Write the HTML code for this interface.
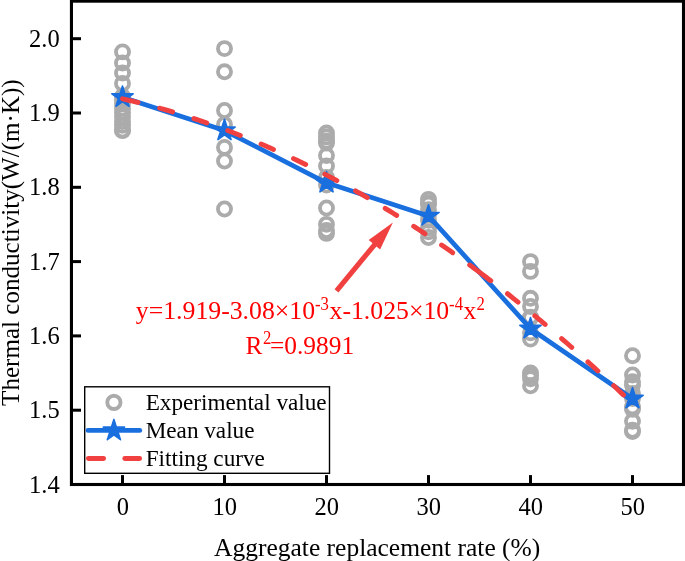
<!DOCTYPE html>
<html><head><meta charset="utf-8"><title>chart</title>
<style>
html,body{margin:0;padding:0;background:#fff;}
body{width:685px;height:561px;overflow:hidden;}
svg{display:block;will-change:transform;}
text{font-family:"Liberation Serif",serif;}
</style></head><body>
<svg width="685" height="561" viewBox="0 0 685 561">
<rect x="0" y="0" width="685" height="561" fill="#ffffff"/>

<g fill="none" stroke="#ababab" stroke-width="3.8">
<circle cx="122.5" cy="51.90" r="6.55"/>
<circle cx="122.5" cy="63.00" r="6.55"/>
<circle cx="122.5" cy="73.00" r="6.55"/>
<circle cx="122.5" cy="83.40" r="6.55"/>
<circle cx="122.5" cy="96.50" r="6.55"/>
<circle cx="122.5" cy="100.00" r="6.55"/>
<circle cx="122.5" cy="103.55" r="6.55"/>
<circle cx="122.5" cy="108.15" r="6.55"/>
<circle cx="122.5" cy="112.50" r="6.55"/>
<circle cx="122.5" cy="116.70" r="6.55"/>
<circle cx="122.5" cy="121.50" r="6.55"/>
<circle cx="122.5" cy="125.35" r="6.55"/>
<circle cx="122.5" cy="130.05" r="6.55"/>
<circle cx="122.5" cy="130.65" r="6.55"/>
<circle cx="224.5" cy="48.60" r="6.55"/>
<circle cx="224.5" cy="71.80" r="6.55"/>
<circle cx="224.5" cy="110.50" r="6.55"/>
<circle cx="224.5" cy="124.50" r="6.55"/>
<circle cx="224.5" cy="147.40" r="6.55"/>
<circle cx="224.5" cy="161.00" r="6.55"/>
<circle cx="224.5" cy="209.00" r="6.55"/>
<circle cx="326.5" cy="133.05" r="6.55"/>
<circle cx="326.5" cy="136.90" r="6.55"/>
<circle cx="326.5" cy="141.10" r="6.55"/>
<circle cx="326.5" cy="143.05" r="6.55"/>
<circle cx="326.5" cy="155.60" r="6.55"/>
<circle cx="326.5" cy="166.00" r="6.55"/>
<circle cx="326.5" cy="177.50" r="6.55"/>
<circle cx="326.5" cy="185.00" r="6.55"/>
<circle cx="326.5" cy="208.00" r="6.55"/>
<circle cx="326.5" cy="224.35" r="6.55"/>
<circle cx="326.5" cy="230.50" r="6.55"/>
<circle cx="326.5" cy="233.40" r="6.55"/>
<circle cx="428.5" cy="199.35" r="6.55"/>
<circle cx="428.5" cy="203.25" r="6.55"/>
<circle cx="428.5" cy="204.15" r="6.55"/>
<circle cx="428.5" cy="209.75" r="6.55"/>
<circle cx="428.5" cy="214.50" r="6.55"/>
<circle cx="428.5" cy="220.30" r="6.55"/>
<circle cx="428.5" cy="228.10" r="6.55"/>
<circle cx="428.5" cy="231.85" r="6.55"/>
<circle cx="428.5" cy="237.50" r="6.55"/>
<circle cx="530.5" cy="261.60" r="6.55"/>
<circle cx="530.5" cy="271.40" r="6.55"/>
<circle cx="530.5" cy="298.30" r="6.55"/>
<circle cx="530.5" cy="306.50" r="6.55"/>
<circle cx="530.5" cy="317.20" r="6.55"/>
<circle cx="530.5" cy="317.90" r="6.55"/>
<circle cx="530.5" cy="332.85" r="6.55"/>
<circle cx="530.5" cy="339.10" r="6.55"/>
<circle cx="530.5" cy="373.00" r="6.55"/>
<circle cx="530.5" cy="375.50" r="6.55"/>
<circle cx="530.5" cy="378.70" r="6.55"/>
<circle cx="530.5" cy="385.75" r="6.55"/>
<circle cx="632.5" cy="355.70" r="6.55"/>
<circle cx="632.5" cy="375.00" r="6.55"/>
<circle cx="632.5" cy="381.70" r="6.55"/>
<circle cx="632.5" cy="385.20" r="6.55"/>
<circle cx="632.5" cy="393.40" r="6.55"/>
<circle cx="632.5" cy="398.50" r="6.55"/>
<circle cx="632.5" cy="406.90" r="6.55"/>
<circle cx="632.5" cy="409.30" r="6.55"/>
<circle cx="632.5" cy="421.30" r="6.55"/>
<circle cx="632.5" cy="430.30" r="6.55"/>
<circle cx="632.5" cy="431.60" r="6.55"/>
</g>
<polyline points="122.5,97.2 224.5,130.6 326.5,182.8 428.5,215.9 530.5,328.7 632.5,398.7" fill="none" stroke="#1a6fdf" stroke-width="4.7" stroke-linejoin="round" stroke-linecap="round"/>
<polygon points="122.50,86.00 125.01,93.74 133.15,93.74 126.57,98.52 129.08,106.26 122.50,101.48 115.92,106.26 118.43,98.52 111.85,93.74 119.99,93.74" fill="#1a6fdf" stroke="#1a6fdf" stroke-width="1.6" stroke-linejoin="round"/>
<polygon points="224.50,119.35 227.01,127.09 235.15,127.09 228.57,131.87 231.08,139.61 224.50,134.83 217.92,139.61 220.43,131.87 213.85,127.09 221.99,127.09" fill="#1a6fdf" stroke="#1a6fdf" stroke-width="1.6" stroke-linejoin="round"/>
<polygon points="326.50,171.60 329.01,179.34 337.15,179.34 330.57,184.12 333.08,191.86 326.50,187.08 319.92,191.86 322.43,184.12 315.85,179.34 323.99,179.34" fill="#1a6fdf" stroke="#1a6fdf" stroke-width="1.6" stroke-linejoin="round"/>
<polygon points="428.50,204.70 431.01,212.44 439.15,212.44 432.57,217.22 435.08,224.96 428.50,220.18 421.92,224.96 424.43,217.22 417.85,212.44 425.99,212.44" fill="#1a6fdf" stroke="#1a6fdf" stroke-width="1.6" stroke-linejoin="round"/>
<polygon points="530.50,317.50 533.01,325.24 541.15,325.24 534.57,330.02 537.08,337.76 530.50,332.98 523.92,337.76 526.43,330.02 519.85,325.24 527.99,325.24" fill="#1a6fdf" stroke="#1a6fdf" stroke-width="1.6" stroke-linejoin="round"/>
<polygon points="632.50,387.50 635.01,395.24 643.15,395.24 636.57,400.02 639.08,407.76 632.50,402.98 625.92,407.76 628.43,400.02 621.85,395.24 629.99,395.24" fill="#1a6fdf" stroke="#1a6fdf" stroke-width="1.6" stroke-linejoin="round"/>
<path d="M122.50 98.84 L125.05 99.42 L127.60 100.00 L130.15 100.60 L132.70 101.21 L135.25 101.82 L137.80 102.45 L140.35 103.08 L142.90 103.72 L145.45 104.38 L148.00 105.04 L150.55 105.71 L153.10 106.39 L155.65 107.08 L158.20 107.78 L160.75 108.50 L163.30 109.21 L165.85 109.94 L168.40 110.68 L170.95 111.43 L173.50 112.19 L176.05 112.96 L178.60 113.73 L181.15 114.52 L183.70 115.32 L186.25 116.12 L188.80 116.94 L191.35 117.76 L193.90 118.59 L196.45 119.44 L199.00 120.29 L201.55 121.15 L204.10 122.03 L206.65 122.91 L209.20 123.80 L211.75 124.70 L214.30 125.61 L216.85 126.53 L219.40 127.46 L221.95 128.40 L224.50 129.34 L227.05 130.30 L229.60 131.27 L232.15 132.25 L234.70 133.23 L237.25 134.23 L239.80 135.23 L242.35 136.25 L244.90 137.27 L247.45 138.31 L250.00 139.35 L252.55 140.40 L255.10 141.47 L257.65 142.54 L260.20 143.62 L262.75 144.71 L265.30 145.81 L267.85 146.92 L270.40 148.04 L272.95 149.17 L275.50 150.31 L278.05 151.46 L280.60 152.61 L283.15 153.78 L285.70 154.96 L288.25 156.15 L290.80 157.34 L293.35 158.55 L295.90 159.76 L298.45 160.99 L301.00 162.22 L303.55 163.46 L306.10 164.72 L308.65 165.98 L311.20 167.25 L313.75 168.53 L316.30 169.82 L318.85 171.12 L321.40 172.43 L323.95 173.75 L326.50 175.08 L329.05 176.42 L331.60 177.77 L334.15 179.13 L336.70 180.49 L339.25 181.87 L341.80 183.26 L344.35 184.65 L346.90 186.06 L349.45 187.47 L352.00 188.90 L354.55 190.33 L357.10 191.77 L359.65 193.23 L362.20 194.69 L364.75 196.16 L367.30 197.64 L369.85 199.13 L372.40 200.63 L374.95 202.14 L377.50 203.66 L380.05 205.19 L382.60 206.73 L385.15 208.28 L387.70 209.84 L390.25 211.40 L392.80 212.98 L395.35 214.57 L397.90 216.16 L400.45 217.77 L403.00 219.38 L405.55 221.00 L408.10 222.64 L410.65 224.28 L413.20 225.93 L415.75 227.60 L418.30 229.27 L420.85 230.95 L423.40 232.64 L425.95 234.34 L428.50 236.05 L431.05 237.77 L433.60 239.50 L436.15 241.24 L438.70 242.99 L441.25 244.74 L443.80 246.51 L446.35 248.29 L448.90 250.07 L451.45 251.87 L454.00 253.67 L456.55 255.49 L459.10 257.31 L461.65 259.15 L464.20 260.99 L466.75 262.84 L469.30 264.70 L471.85 266.58 L474.40 268.46 L476.95 270.35 L479.50 272.25 L482.05 274.16 L484.60 276.08 L487.15 278.01 L489.70 279.94 L492.25 281.89 L494.80 283.85 L497.35 285.82 L499.90 287.79 L502.45 289.78 L505.00 291.78 L507.55 293.78 L510.10 295.79 L512.65 297.82 L515.20 299.85 L517.75 301.90 L520.30 303.95 L522.85 306.01 L525.40 308.08 L527.95 310.16 L530.50 312.25 L533.05 314.35 L535.60 316.46 L538.15 318.58 L540.70 320.71 L543.25 322.85 L545.80 325.00 L548.35 327.16 L550.90 329.32 L553.45 331.50 L556.00 333.68 L558.55 335.88 L561.10 338.09 L563.65 340.30 L566.20 342.52 L568.75 344.76 L571.30 347.00 L573.85 349.25 L576.40 351.52 L578.95 353.79 L581.50 356.07 L584.05 358.36 L586.60 360.66 L589.15 362.97 L591.70 365.29 L594.25 367.62 L596.80 369.95 L599.35 372.30 L601.90 374.66 L604.45 377.03 L607.00 379.40 L609.55 381.79 L612.10 384.18 L614.65 386.59 L617.20 389.00 L619.75 391.43 L622.30 393.86 L624.85 396.30 L627.40 398.76 L629.95 401.22 L632.50 403.69" fill="none" stroke="#f14040" stroke-width="4.9" stroke-linecap="round" stroke-dasharray="15.90 22.40 13.50 22.40 13.50 22.30 13.50 22.45 13.50 22.10 13.50 21.55 13.50 21.40 13.50 20.85 13.50 20.20 13.50 20.10 13.50 20.95 26.40 21.10 13.50 21.65 13.50 21.65 13.50 21.65 13.50 21.65 13.50 100.00"/>
<line x1="336.5" y1="290.8" x2="375.7" y2="243.3" stroke="#f14040" stroke-width="5.1"/>
<polygon points="392.9,222.5 380.1,249.6 368.7,240.1" fill="#f14040"/>
<rect x="71.45" y="1.15" width="612.05" height="483.35" fill="none" stroke="#000" stroke-width="3.1"/>
<g stroke="#000" stroke-width="3">
<line x1="72" y1="410.2" x2="81.0" y2="410.2"/>
<line x1="72" y1="335.9" x2="81.0" y2="335.9"/>
<line x1="72" y1="261.6" x2="81.0" y2="261.6"/>
<line x1="72" y1="187.3" x2="81.0" y2="187.3"/>
<line x1="72" y1="113.0" x2="81.0" y2="113.0"/>
<line x1="72" y1="38.7" x2="81.0" y2="38.7"/>
<line x1="122.5" y1="484" x2="122.5" y2="475.1"/>
<line x1="224.5" y1="484" x2="224.5" y2="475.1"/>
<line x1="326.5" y1="484" x2="326.5" y2="475.1"/>
<line x1="428.5" y1="484" x2="428.5" y2="475.1"/>
<line x1="530.5" y1="484" x2="530.5" y2="475.1"/>
<line x1="632.5" y1="484" x2="632.5" y2="475.1"/>
</g>
<g font-size="24.5" fill="#000">
<text x="59.7" y="492.5" text-anchor="end">1.4</text>
<text x="59.7" y="418.2" text-anchor="end">1.5</text>
<text x="59.7" y="343.9" text-anchor="end">1.6</text>
<text x="59.7" y="269.6" text-anchor="end">1.7</text>
<text x="59.7" y="195.3" text-anchor="end">1.8</text>
<text x="59.7" y="121.0" text-anchor="end">1.9</text>
<text x="59.7" y="46.7" text-anchor="end">2.0</text>
<text x="122.8" y="514.5" text-anchor="middle">0</text>
<text x="224.8" y="514.5" text-anchor="middle">10</text>
<text x="326.8" y="514.5" text-anchor="middle">20</text>
<text x="428.8" y="514.5" text-anchor="middle">30</text>
<text x="530.8" y="514.5" text-anchor="middle">40</text>
<text x="632.8" y="514.5" text-anchor="middle">50</text>
</g>
<text id="xl" x="214.0" y="555.7" font-size="25.5" fill="#000">Aggregate replacement rate (%)</text>
<text id="yl" transform="translate(18.6,405.9) rotate(-90)" font-size="25.08" fill="#000">Thermal conductivity(W/(m·K))</text>
<g fill="#ff0000">
<text transform="translate(135.80 319.40) scale(1.000 1)" font-size="25.75">y=1.919-3.08×10</text>
<text transform="translate(314.90 309.60) scale(0.930 1)" font-size="18.00">-3</text>
<text transform="translate(329.50 319.40) scale(1.000 1)" font-size="25.75">x-1.025×10</text>
<text transform="translate(449.10 309.60) scale(0.930 1)" font-size="18.00">-4</text>
<text transform="translate(463.40 319.40) scale(1.000 1)" font-size="25.75">x</text>
<text transform="translate(476.60 309.60) scale(0.930 1)" font-size="18.00">2</text>
<text transform="translate(245.50 353.60) scale(1.000 1)" font-size="25.40">R</text>
<text transform="translate(263.10 343.80) scale(0.930 1)" font-size="18.00">2</text>
<text transform="translate(270.00 353.60) scale(1.000 1)" font-size="25.40">=0.9891</text>
</g>
<rect x="84.7" y="386.8" width="244.8" height="86.5" fill="#fff" stroke="#000" stroke-width="1.4"/>
<circle cx="113.9" cy="402.4" r="6.6" fill="none" stroke="#ababab" stroke-width="3.9"/>
<line x1="88" y1="430.4" x2="139.8" y2="430.4" stroke="#1a6fdf" stroke-width="4.7" stroke-linecap="round"/>
<polygon points="113.90,419.40 116.41,427.14 124.55,427.14 117.97,431.92 120.48,439.66 113.90,434.88 107.32,439.66 109.83,431.92 103.25,427.14 111.39,427.14" fill="#1a6fdf" stroke="#1a6fdf" stroke-width="1.6" stroke-linejoin="round"/>
<line x1="88.4" y1="458.5" x2="103.6" y2="458.5" stroke="#f14040" stroke-width="4.9" stroke-linecap="round"/>
<line x1="124.8" y1="458.5" x2="139.6" y2="458.5" stroke="#f14040" stroke-width="4.9" stroke-linecap="round"/>
<g font-size="23.2" fill="#000">
<text id="l1" x="145.7" y="409.6">Experimental value</text>
<text id="l2" x="145.7" y="438.0">Mean value</text>
<text id="l3" x="145.7" y="465.9">Fitting curve</text>
</g>
</svg></body></html>
